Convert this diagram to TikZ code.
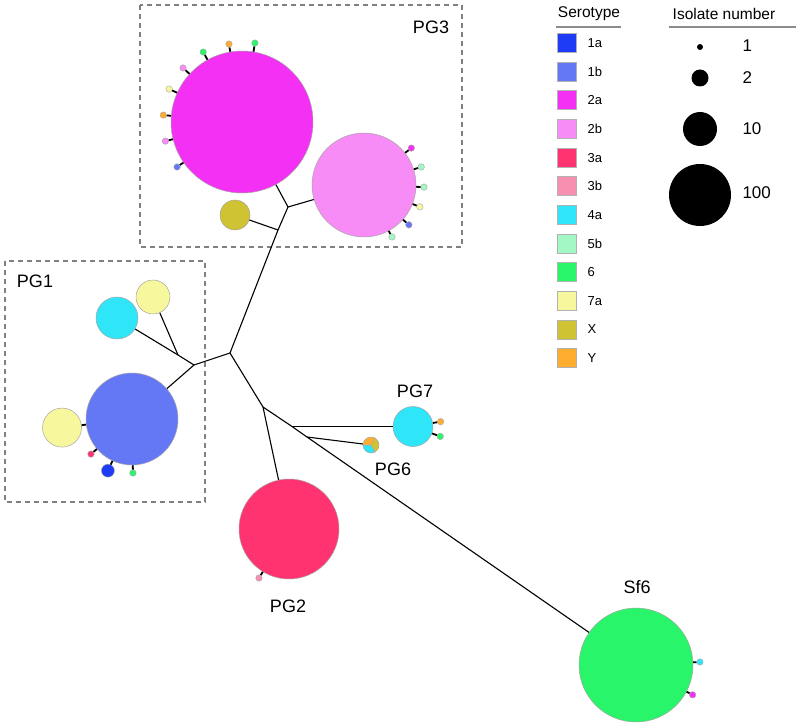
\documentclass[tikz,border=0pt]{standalone}
\usepackage{fontspec}
\setmainfont{Liberation Sans}
\usetikzlibrary{calc}
\definecolor{cIa}{HTML}{1E3CF5}
\definecolor{cIb}{HTML}{6478F5}
\definecolor{cIIa}{HTML}{F530F5}
\definecolor{cIIb}{HTML}{F78CF7}
\definecolor{cIIIa}{HTML}{FF3370}
\definecolor{cIIIb}{HTML}{F78FB0}
\definecolor{cIVa}{HTML}{2EE6F7}
\definecolor{cVb}{HTML}{A3F7C4}
\definecolor{cVI}{HTML}{29F56A}
\definecolor{cVIIa}{HTML}{F7F79E}
\definecolor{cX}{HTML}{CFC233}
\definecolor{cY}{HTML}{FFAD2E}
\tikzset{
  blob/.style={circle, inner sep=0pt, draw=black!35, line width=0.5pt},
  dot/.style={circle, inner sep=0pt, minimum size=6.5pt, draw=black!35, line width=0.4pt},
  branch/.style={line width=1.1pt, black},
  stub/.style={line width=1.8pt, black},
  grp/.style={draw=black!50, dash pattern=on 5pt off 4pt, line width=1.2pt},
  lbl/.style={font=\fontsize{18}{20}\selectfont},
  leghead/.style={font=\fontsize{15.5}{17}\selectfont},
  legtxt/.style={anchor=west, font=\fontsize{13}{15}\selectfont},
  legsq/.style={minimum size=19pt, inner sep=0pt, draw=black!30, line width=0.6pt},
  legnum/.style={anchor=west, font=\fontsize{17}{19}\selectfont},
}
\newcommand{\addsat}[6][]{%
  \node[dot, fill=#6, #1] (#3) at ($(#2)+(#4:#5pt)$) {};
  \draw[stub] (#2) -- (#3);}
\begin{document}
\begin{tikzpicture}[x=1pt,y=-1pt]
\useasboundingbox (0,0) rectangle (800,727);

% group boxes
\draw[grp] (140,5) rectangle (462,247);
\draw[grp] (5,261) rectangle (205,502);
\node[lbl] (tPG3) at (431,27) {PG3};
\node[lbl] (tPG1) at (35,281) {PG1};

% main nodes
\node[blob, fill=cIIa, minimum size=142pt] (m) at (242,122) {};
\node[blob, fill=cIIb, minimum size=104pt] (p) at (364,185) {};
\node[blob, fill=cX, minimum size=30pt] (x) at (235,215) {};
\node[blob, fill=cIb, minimum size=92pt] (b) at (132,419) {};
\node[blob, fill=cIVa, minimum size=42pt] (c1) at (117,318) {};
\node[blob, fill=cVIIa, minimum size=34pt] (y1) at (153,297) {};
\node[blob, fill=cIIIa, minimum size=100pt] (r) at (289,529) {};
\node[blob, fill=cVI, minimum size=114pt] (s) at (636,665) {};
\node[blob, fill=cIVa, minimum size=40pt] (g7) at (413,426.5) {};
\node[circle, inner sep=0pt, minimum size=16pt] (g6) at (371,445) {};

% pie PG6
\fill[cY] (g6.center) -- ($(g6.center)+(60:8pt)$) arc[start angle=60,end angle=180,radius=8pt] -- cycle;
\fill[cIVa] (g6.center) -- ($(g6.center)+(180:8pt)$) arc[start angle=180,end angle=300,radius=8pt] -- cycle;
\fill[cX] (g6.center) -- ($(g6.center)+(300:8pt)$) arc[start angle=300,end angle=420,radius=8pt] -- cycle;
\draw[black!35, line width=0.5pt] (g6.center) -- (g6.60) (g6.center) -- (g6.180) (g6.center) -- (g6.300);
\draw[black!35, line width=0.5pt] (g6.center) circle[radius=8pt];

% junctions
\coordinate (j0) at (230,353);
\coordinate (j3a) at (278,230);
\coordinate (j3b) at (288,207);
\coordinate (j1a) at (194,365);
\coordinate (j1b) at (178,355);
\coordinate (j2) at (263,407);
\coordinate (j7) at (292,426.5);
\coordinate (j6) at (307,437);

% tree
\draw[branch] (j0) -- (j3a);
\draw[branch] (j3a) -- (x);
\draw[branch] (j3a) -- (j3b);
\draw[branch] (j3b) -- (m);
\draw[branch] (j3b) -- (p);
\draw[branch] (j0) -- (j1a);
\draw[branch] (j1a) -- (b);
\draw[branch] (j1a) -- (j1b);
\draw[branch] (j1b) -- (c1);
\draw[branch] (j1b) -- (y1);
\draw[branch] (j0) -- (j2);
\draw[branch] (j2) -- (r);
\draw[branch] (j2) -- (j7);
\draw[branch] (j7) -- (j6);
\draw[branch] (j6) -- (s);
\draw[branch] (j7) -- (g7);
\draw[branch] (j6) -- (g6);

% satellites on 2a
\addsat{m}{m1}{80.7}{80}{cVI}
\addsat{m}{m2}{99.5}{79}{cY}
\addsat{m}{m3}{119}{80}{cVI}
\addsat{m}{m4}{137.5}{80}{cIIb}
\addsat{m}{m5}{155.7}{80}{cVIIa}
\addsat{m}{m6}{175}{79}{cY}
\addsat{m}{m7}{194}{79}{cIIb}
\addsat{m}{m8}{214.7}{79}{cIb}
% satellites on 2b
\addsat{p}{p1}{38}{60}{cIIa}
\addsat{p}{p2}{17.5}{60}{cVb}
\addsat{p}{p3}{-2}{60}{cVb}
\addsat{p}{p4}{-21.4}{60}{cVIIa}
\addsat{p}{p5}{-41.6}{60}{cIb}
\addsat{p}{p6}{-61.7}{59}{cVb}
% satellites on 1b
\addsat[minimum size=39pt, line width=0.5pt]{b}{y2}{187}{70.5}{cVIIa}
\addsat{b}{b1}{220.5}{54}{cIIIa}
\addsat[minimum size=13pt]{b}{b2}{245}{57}{cIa}
\addsat{b}{b3}{-89}{54}{cVI}
% PG7
\addsat{g7}{g71}{10}{28}{cY}
\addsat{g7}{g72}{-20}{29}{cVI}
% Sf6
\addsat{s}{s1}{2.7}{64}{cIVa}
\addsat{s}{s2}{-27.8}{64}{cIIa}
% PG2
\addsat{r}{r1}{238.5}{57.5}{cIIIb}

% labels
\node[lbl] (tPG7) at (415,391) {PG7};
\node[lbl] (tPG6) at (393,469) {PG6};
\node[lbl] (tPG2) at (288,606) {PG2};
\node[lbl] (tSf6) at (637,587) {Sf6};

% legend: serotype
\node[leghead] (hS) at (589,14) {Serotype};
\coordinate (uS1) at (556,27);
\coordinate (uS2) at (621,27);
\draw[black!45, line width=1.2pt] (uS1) -- (uS2);
\foreach \c/\t [count=\i from 0] in {cIa/1a,cIb/1b,cIIa/2a,cIIb/2b,cIIIa/3a,cIIIb/3b,cIVa/4a,cVb/5b,cVI/6,cVIIa/7a,cX/X,cY/Y}{
  \node[legsq, fill=\c] (sq\i) at (567,{43+28.65*\i}) {};
  \node[legtxt] (st\i) at (584,{43+28.65*\i}) {\t};
}
% legend: isolate number
\node[leghead] (hI) at (724,14) {Isolate number};
\coordinate (uI1) at (669,27);
\coordinate (uI2) at (796,27);
\draw[black!45, line width=1.2pt] (uI1) -- (uI2);
\node[circle, fill=black, inner sep=0pt, minimum size=6pt] (k1) at (700,47) {};
\node[circle, fill=black, inner sep=0pt, minimum size=17pt] (k2) at (700,78) {};
\node[circle, fill=black, inner sep=0pt, minimum size=34pt] (k10) at (700,129) {};
\node[circle, fill=black, inner sep=0pt, minimum size=62pt] (k100) at (700,195) {};
\node[legnum] (n1) at (739,46) {1};
\node[legnum] (n2) at (739,78) {2};
\node[legnum] (n10) at (739,129) {10};
\node[legnum] (n100) at (739,193) {100};
\end{tikzpicture}
\end{document}
